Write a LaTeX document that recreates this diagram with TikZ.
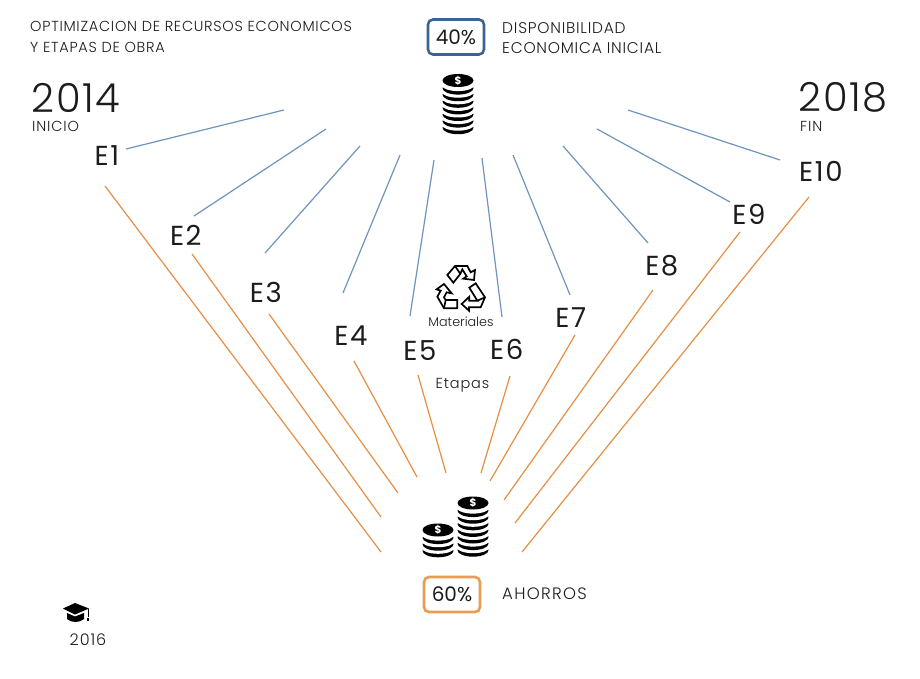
\documentclass[tikz,border=0pt]{standalone}
\usepackage{fontspec}
\setmainfont{Poppins Light}
\newfontfamily\stagefont[LetterSpace=6]{Poppins}
\newfontfamily\titlefont[LetterSpace=5]{Poppins Light}
\newfontfamily\dispfont[LetterSpace=5]{Poppins Light}
\newfontfamily\ahorrofont[LetterSpace=8]{Poppins Light}
\newfontfamily\capfont[LetterSpace=6]{Poppins Light}
\newfontfamily\yearfont[LetterSpace=4]{Poppins Light}
\newfontfamily\plainfont{Poppins}
\definecolor{bluel}{HTML}{6F94BE}
\definecolor{orangel}{HTML}{E58F45}
\definecolor{bluebox}{HTML}{3F6290}
\definecolor{orangebox}{HTML}{EB9C52}
\definecolor{ink}{HTML}{1C1C1C}
\tikzset{
  txt/.style={inner sep=0pt,text=ink,align=left},
  titletxt/.style={txt,anchor=west,font=\titlefont\fontsize{14.5}{20}\selectfont},
  disptxt/.style={txt,anchor=west,font=\dispfont\fontsize{15.5}{20}\selectfont},
  captxt/.style={txt,anchor=west,font=\capfont\fontsize{14.5}{20}\selectfont},
  stage/.style={txt,font=\stagefont\fontsize{27.5}{27.5}\selectfont},
  year/.style={txt,font=\yearfont\fontsize{40}{40}\selectfont},
  blueline/.style={bluel,line width=1.2pt},
  orangeline/.style={orangel,line width=1.2pt},
  pct/.style={rounded corners=5pt,line width=2.6pt,minimum width=56pt,minimum height=35pt,inner sep=0pt,text=ink,font=\plainfont\fontsize{20}{20}\selectfont},
  recyc/.style={black,line width=1.7pt,fill=white,line join=miter},
}
\newcommand{\coinstack}[4]{% cx, top y, n layers, spacing
  \foreach \i in {#3,...,1}{
    \pgfmathsetmacro{\yy}{#2+\i*#4+1}
    \fill[black] (#1,\yy) ellipse (15.5pt and 6.5pt);
    \fill[white] (#1,\yy-3.2) ellipse (16.5pt and 6.2pt);
  }
  \fill[black] (#1,#2) ellipse (15.5pt and 6.5pt);
  \node[inner sep=0pt,text=white,font=\plainfont\fontsize{10.5}{10}\bfseries\selectfont] at (#1,#2) {\$};
}
\begin{document}
\begin{tikzpicture}[x=1pt,y=-1pt]
\useasboundingbox (0,0) rectangle (920,679);
\fill[white] (0,0) rectangle (920,679);

% top and bottom titles
\node[titletxt] (title1) at (30,26.5) {OPTIMIZACION DE RECURSOS ECONOMICOS};
\node[titletxt] (title2) at (30,47) {Y ETAPAS DE OBRA};
\node[disptxt] (disp1) at (502,28) {DISPONIBILIDAD};
\node[disptxt] (disp2) at (502,48) {ECONOMICA INICIAL};
\node[txt,anchor=west,font=\ahorrofont\fontsize{16.5}{20}\selectfont] (ahorros) at (502,594) {AHORROS};
\node[year,anchor=center] (y2014) at (76,97.5) {2014};
\node[captxt] (inicio) at (32,126) {INICIO};
\node[year,anchor=center] (y2018) at (843,97.5) {2018};
\node[captxt] (fin) at (800,126) {FIN};
\node[pct,draw=bluebox] (p40) at (456,37) {40\%};
\node[pct,draw=orangebox] (p60) at (452,594.5) {60\%};
\node[txt,font=\fontsize{12.7}{13}\selectfont] (mat) at (461,322) {Materiales};
\node[txt,font=\capfont\fontsize{14.5}{15}\selectfont] (etapas) at (462.5,385) {Etapas};
\node[txt,font=\capfont\fontsize{16}{16}\selectfont] (y2016) at (88,640) {2016};

% stages
\node[stage] (E1) at (106,156) {E1\kern-1.6pt};
\node[stage] (E2) at (185,235) {E2\kern-1.6pt};
\node[stage] (E3) at (265,292) {E3\kern-1.6pt};
\node[stage] (E4) at (350,336) {E4\kern-1.6pt};
\node[stage] (E5) at (419,351) {E5\kern-1.6pt};
\node[stage] (E6) at (506,349) {E6\kern-1.6pt};
\node[stage] (E7) at (570,318) {E7\kern-1.6pt};
\node[stage] (E8) at (661,266) {E8\kern-1.6pt};
\node[stage] (E9) at (748,214) {E9\kern-1.6pt};
\node[stage] (E10) at (820,171) {E10\kern-1.6pt};

% free ends
\coordinate (t1) at (284,110); \coordinate (t2) at (326,129);
\coordinate (t3) at (360,146); \coordinate (t4) at (400,155);
\coordinate (t5) at (434,160); \coordinate (t6) at (482,158);
\coordinate (t7) at (513,155); \coordinate (t8) at (563,146);
\coordinate (t9) at (597,129); \coordinate (t10) at (628,110);
\coordinate (b1) at (381,552); \coordinate (b2) at (381,517);
\coordinate (b3) at (398,493); \coordinate (b4) at (417,477);
\coordinate (b5) at (446,473); \coordinate (b6) at (481,473);
\coordinate (b7) at (490,481); \coordinate (b8) at (504,500);
\coordinate (b9) at (515,523); \coordinate (b10) at (522,552);

% blue connectors
\draw[blueline] ([shift={(20,-7)}]E1.center) -- (t1);
\draw[blueline] ([shift={(9,-19)}]E2.center) -- (t2);
\draw[blueline] ([shift={(0,-39)}]E3.center) -- (t3);
\draw[blueline] ([shift={(-7,-43)}]E4.center) -- (t4);
\draw[blueline] ([shift={(-9,-35)}]E5.center) -- (t5);
\draw[blueline] ([shift={(-4,-32)}]E6.center) -- (t6);
\draw[blueline] ([shift={(0,-23)}]E7.center) -- (t7);
\draw[blueline] ([shift={(-13,-23)}]E8.center) -- (t8);
\draw[blueline] ([shift={(-18,-12)}]E9.center) -- (t9);
\draw[blueline] ([shift={(-40,-11)}]E10.center) -- (t10);

% orange connectors
\draw[orangeline] ([shift={(-1,30)}]E1.center) -- (b1);
\draw[orangeline] ([shift={(7,19)}]E2.center) -- (b2);
\draw[orangeline] ([shift={(4,22)}]E3.center) -- (b3);
\draw[orangeline] ([shift={(4,25)}]E4.center) -- (b4);
\draw[orangeline] ([shift={(-1,24)}]E5.center) -- (b5);
\draw[orangeline] ([shift={(4,27)}]E6.center) -- (b6);
\draw[orangeline] ([shift={(5,17)}]E7.center) -- (b7);
\draw[orangeline] ([shift={(-8,24)}]E8.center) -- (b8);
\draw[orangeline] ([shift={(-8,18)}]E9.center) -- (b9);
\draw[orangeline] ([shift={(-11,26)}]E10.center) -- (b10);

% coins
\coinstack{458}{80.5}{7}{6.6}
\coinstack{473}{503}{7}{6.6}
\coinstack{438}{530}{3}{6.6}

% recycle icon
\begin{scope}[shift={(430,260)},x=0.3333pt,y=-0.3333pt]
  \draw[recyc] (52,45) -- (75,18) -- (112,18) -- (122,37) -- (135,30) -- (132,60) -- (100,56) -- (110,49) -- (97,28) -- (90,43) -- (70,68) -- cycle;
  \draw[recyc] (75,18) -- (92,43);
  \draw[recyc] (118,83) -- (137,70) -- (165,112) -- (152,142) -- (117,142) -- (117,152) -- (95,132) -- (118,110) -- (118,122) -- (142,122) -- cycle;
  \draw[recyc] (142,122) -- (165,112);
  \draw[recyc] (82,120) -- (82,145) -- (42,145) -- (22,110) -- (32,92) -- (20,88) -- (42,72) -- (65,100) -- (50,97) -- (42,112) -- (47,120) -- cycle;
  \draw[recyc] (47,120) -- (42,145);
\end{scope}

% graduation cap
\fill[black] (75,603) -- (89,608.5) -- (75,614.5) -- (63,608.5) -- cycle;
\fill[black] (67,613) -- (75,616.5) -- (84,613) -- (84,619) .. controls (80,623) and (71,623) .. (67,619) -- cycle;
\fill[black] (87.6,609) rectangle (88.8,617);
\fill[black] (87.2,617.5) rectangle (89.4,621);
\end{tikzpicture}
\end{document}
